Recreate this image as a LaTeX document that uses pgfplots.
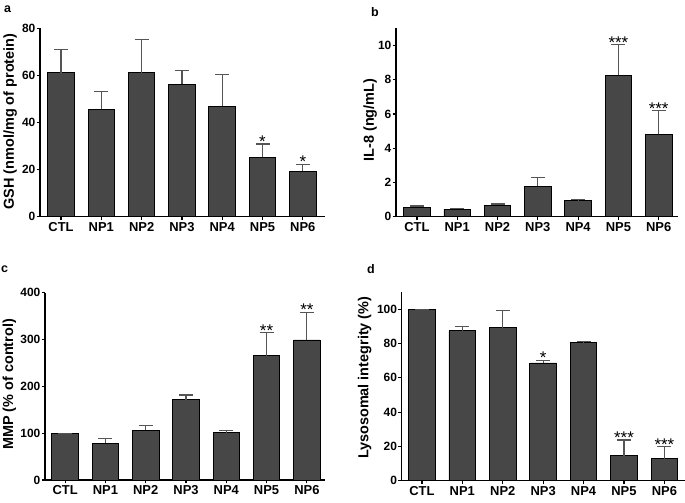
\documentclass[border=0pt]{standalone}
\usepackage{pgfplots}
\usepackage{pgfplotstable}
\pgfplotsset{compat=1.18}
\usepackage{fontspec}
\setmainfont{Liberation Sans}
\definecolor{barc}{HTML}{474747}
\definecolor{errc}{HTML}{555555}

\pgfplotstableread{
x y e
0 61.2 9.9
1 45.7 7.4
2 61.2 14.1
3 56.2 5.8
4 47.0 13.3
5 25.2 5.7
6 19.3 2.9
}\dataA
\pgfplotstableread{
x y s
5 30.9 *
6 22.2 *
}\starA
\pgfplotstableread{
x y e
0 0.54 0.08
1 0.43 0.06
2 0.68 0.06
3 1.79 0.48
4 0.93 0.06
5 8.25 1.79
6 4.80 1.39
}\dataB
\pgfplotstableread{
x y s
5 10.04 ***
6 6.19 ***
}\starB
\pgfplotstableread{
x y e
0 100 0
1 79 9
2 106 10
3 171 10.5
4 101 4
5 265.5 49.1
6 299 59
}\dataC
\pgfplotstableread{
x y s
5 314.6 **
6 358 **
}\starC
\pgfplotstableread{
x y e
0 100 0
1 87.5 2.4
2 89.3 9.9
3 68.7 1.5
4 80.7 0.4
5 14.6 9.1
6 12.8 7.0
}\dataD
\pgfplotstableread{
x y s
3 70.2 *
5 23.7 ***
6 19.8 ***
}\starD

\pgfplotsset{
  panel/.style={
    scale only axis, anchor=south west, clip=false,
    axis x line*=bottom, axis y line*=left,
    axis line style={-, line width=1.2bp, black},
    tick align=outside, major tick length=3.5bp,
    tick style={line width=1.2bp, black},
    xtick={0,...,6},
    xticklabels={CTL,NP1,NP2,NP3,NP4,NP5,NP6},
    xticklabel style={font=\fontsize{13}{15}\selectfont\bfseries, inner sep=1bp, yshift=-1bp},
    yticklabel style={font=\fontsize{12}{14}\selectfont\bfseries, inner sep=1bp},
    /pgf/number format/assume math mode=true,
    ylabel style={font=\fontsize{14.5}{17}\selectfont\bfseries, anchor=center},
    ymin=0,
  },
  bars/.style={ybar, bar width=0.66, fill=barc, draw=black, line width=0.9bp,
    error bars/.cd, y dir=plus, y explicit,
    error bar style={line width=1.2bp, errc},
    error mark options={rotate=90, mark size=7bp, line width=1.2bp, errc}},
  stars/.style={draw=none, mark=none, nodes near coords, point meta=explicit symbolic,
    nodes near coords style={anchor=base, inner sep=0pt, yshift=-3.5bp,
      font=\fontsize{17}{19}\selectfont, text=black}},
}

\begin{document}
\begin{tikzpicture}[x=1bp,y=1bp]
\useasboundingbox (0,0) rectangle (685,503);

% panel a
\begin{axis}[panel, at={(40bp,286.3bp)}, width=285bp, height=188.4bp,
  xmin=-0.521, xmax=6.55, ymax=80, ytick={0,20,...,80},
  ylabel={GSH (nmol/mg of protein)},
  ylabel style={at={(axis description cs:-0.105,0.505)}}]
\addplot[bars] table[x=x,y=y,y error=e] {\dataA};
\addplot[stars] table[x=x,y=y,meta=s] {\starA};
\end{axis}

% panel b
\begin{axis}[panel, at={(396bp,286.3bp)}, width=282bp, height=188.4bp,
  xmin=-0.52, xmax=6.48, ymax=11, ytick={0,2,...,10},
  ylabel={IL-8 (ng/mL)},
  ylabel style={at={(axis description cs:-0.092,0.513)}}]
\addplot[bars] table[x=x,y=y,y error=e] {\dataB};
\addplot[stars] table[x=x,y=y,meta=s] {\starB};
\end{axis}

% panel c
\begin{axis}[panel, at={(45bp,23bp)}, width=280bp, height=187.3bp,
  xmin=-0.5, xmax=6.45, ymax=400, ytick={0,100,...,400},
  ylabel={MMP (\% of control)},
  ylabel style={at={(axis description cs:-0.127,0.51)}}]
\addplot[bars] table[x=x,y=y,y error=e] {\dataC};
\addplot[stars] table[x=x,y=y,meta=s] {\starC};
\end{axis}

% panel d
\begin{axis}[panel, at={(401.7bp,22.3bp)}, width=283.3bp, height=188.5bp,
  xmin=-0.5, xmax=6.51, ymax=110, ytick={0,20,...,100},
  ylabel={Lysosomal integrity (\%)},
  ylabel style={at={(axis description cs:-0.131,0.546)}}]
\addplot[bars] table[x=x,y=y,y error=e] {\dataD};
\addplot[stars] table[x=x,y=y,meta=s] {\starD};
\end{axis}

\node[anchor=base west, inner sep=0pt, font=\fontsize{12.5}{14}\selectfont\bfseries] at (4,490) {a};
\node[anchor=base west, inner sep=0pt, font=\fontsize{12.5}{14}\selectfont\bfseries] at (371,486) {b};
\node[anchor=base west, inner sep=0pt, font=\fontsize{12.5}{14}\selectfont\bfseries] at (1,230) {c};
\node[anchor=base west, inner sep=0pt, font=\fontsize{12.5}{14}\selectfont\bfseries] at (367,229) {d};
\end{tikzpicture}
\end{document}
